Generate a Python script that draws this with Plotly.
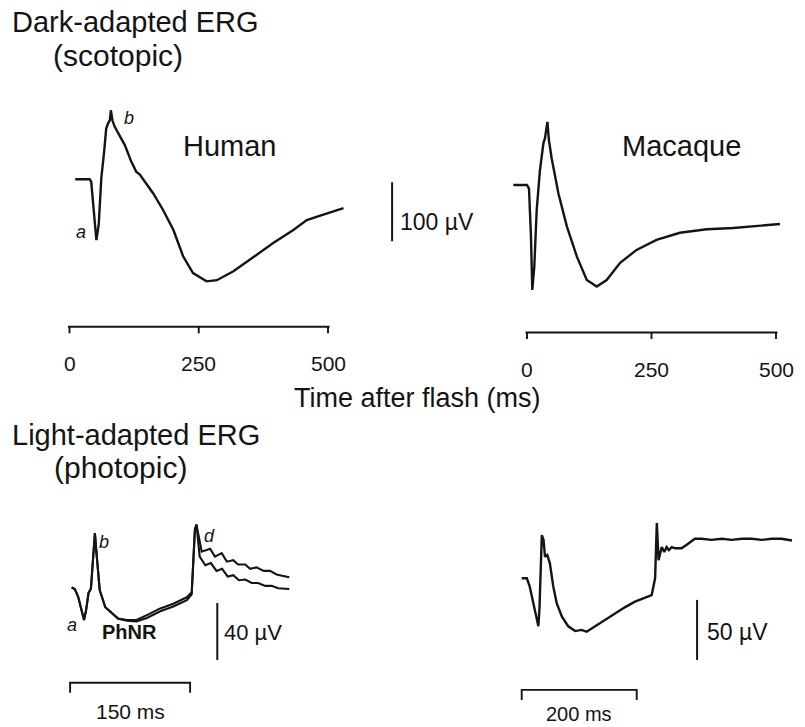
import plotly.graph_objects as go

W, H = 805, 727

# ---- Dark-adapted (scotopic) ERG: time after flash (ms), amplitude (µV) ----
human_scot_t = [11, 39, 42, 49, 52, 56.5, 61.5, 67, 71, 74.5, 78, 80, 83, 87.5, 97, 107,
                119.5, 129, 136, 162, 181, 201, 220, 239, 265, 285, 317, 356, 394, 433,
                459, 491, 530]
human_scot_v = [0, 0, -4, -72, -103, -77, 2, 47, 86, 95, 100, 117, 100, 89, 75, 58,
                30, 13, 8, -24, -52, -86, -131, -159, -173, -171, -156, -131, -108, -86,
                -69, -60, -49]

macaque_scot_t = [-27.5, 0, 4, 8, 10.6, 14.7, 19.5, 26, 33, 36, 41, 44, 49.6, 63, 80,
                  100, 120, 140, 160, 187, 220, 260, 307, 361, 414, 461, 508]
macaque_scot_v = [0, 0, -6, -88, -178, -138, -42, 25, 71, 79, 107, 76, 45, -14, -70,
                  -121, -161, -172, -161, -132, -110, -93, -81, -75, -73, -69, -66]

# ---- Light-adapted (photopic) ERG, human: two superimposed recordings ----
human_phot_t_a = [0, 4, 8, 12.5, 15.4, 18, 21, 24, 27, 29, 31, 35, 42, 48, 58, 69, 81,
                  94, 110, 127, 144, 150, 152, 154, 156, 162.5, 173, 179, 187.5, 194,
                  202, 208, 217, 223, 231, 240, 248, 256, 264.5, 272]
human_phot_v_a = [0, -1.4, -6.5, -16, -23, -16, -4, -1, 24, 38, 24, -2, -14, -17, -22,
                  -23, -23, -19.5, -15, -11.5, -7, -3.5, 19, 41, 44, 25, 27, 21.5, 24, 18,
                  19, 16, 16, 13, 14, 11.5, 11.5, 9, 8, 7]

human_phot_t_b = [0, 4, 8, 12.5, 15.4, 18, 21, 24, 27, 29, 31, 35, 42, 48, 58, 69, 81,
                  94, 110, 127, 144, 150, 152, 154, 156, 160, 167, 174, 181, 188, 195,
                  202, 209, 217, 225, 233, 242, 250, 258, 272]
human_phot_v_b = [0, -1.4, -6.5, -16, -23, -16, -4, -1, 24, 38, 24, -2, -14, -17, -22,
                  -23.5, -24, -21.5, -17, -13.5, -9, -5, 18, 40, 44, 21.5, 15.5, 17, 11.5,
                  13, 7.5, 8.5, 5, 5.5, 3, 3, 1, 1, -0.7, -1.2]

# ---- Light-adapted (photopic) ERG, macaque ----
macaque_phot_t = [0, 9, 14, 20, 26, 29, 31, 32, 35, 38, 40.5, 44.5, 49, 55, 61, 70, 81,
                  93, 104, 113, 127.5, 145, 162, 180, 197, 214, 226, 232, 235, 238, 243.5,
                  248, 252, 256, 261, 267, 278, 287, 301, 313, 330, 348, 365, 383, 400,
                  417, 435, 452, 470]
macaque_phot_v = [0, 0, -7, -21, -32, -40, -24, -6, 36, 32, 18, 19.5, 12.5, -7, -21, -32,
                  -40, -44, -43, -44.5, -40, -35, -29, -24, -19.5, -16, -14, 0, 46, 15, 26,
                  22, 26, 23.5, 26, 25, 25, 28, 33, 33, 32, 33, 32, 33, 33, 32, 33, 33,
                  31.5]

time_ticks = [0, 250, 500]
time_tick_labels = ["0", "250", "500"]

scot_bar_uv = 100
phot_bar_uv_human = 40
phot_bar_uv_macaque = 50
phot_bar_ms_human = 150
phot_bar_ms_macaque = 200

INK = "#141414"
FONT = "Liberation Sans, Arial, sans-serif"


def panel(box, x0_px, sx, y0_px, sy):
    """Axis pair whose data units map to sx / sy pixels, with 0 at (x0_px, y0_px)."""
    left, right, top, bottom = box
    xa = dict(domain=[left / W, right / W],
              range=[(left - x0_px) / sx, (right - x0_px) / sx],
              visible=False, fixedrange=True)
    ya = dict(domain=[1 - bottom / H, 1 - top / H],
              range=[(y0_px - bottom) / sy, (y0_px - top) / sy],
              visible=False, fixedrange=True)
    return xa, ya


def px(x, y):
    return x / W, 1 - y / H


fig = go.Figure()

line_style = dict(color=INK, width=2.4)
fig.add_trace(go.Scatter(x=human_scot_t, y=human_scot_v, mode="lines", line=line_style,
                         xaxis="x", yaxis="y", hoverinfo="skip"))
fig.add_trace(go.Scatter(x=macaque_scot_t, y=macaque_scot_v, mode="lines", line=line_style,
                         xaxis="x2", yaxis="y2", hoverinfo="skip"))
fig.add_trace(go.Scatter(x=human_phot_t_a, y=human_phot_v_a, mode="lines",
                         line=dict(color=INK, width=2.1), xaxis="x3", yaxis="y3",
                         hoverinfo="skip"))
fig.add_trace(go.Scatter(x=human_phot_t_b, y=human_phot_v_b, mode="lines",
                         line=dict(color=INK, width=2.1), xaxis="x3", yaxis="y3",
                         hoverinfo="skip"))
fig.add_trace(go.Scatter(x=macaque_phot_t, y=macaque_phot_v, mode="lines", line=line_style,
                         xaxis="x4", yaxis="y4", hoverinfo="skip"))

x1, y1 = panel((50, 480, 90, 350), 69.5, 0.517, 179.3, 0.59)
x2, y2 = panel((495, 805, 90, 350), 527, 0.498, 185, 0.59)
x3, y3 = panel((55, 300, 505, 727), 71.7, 0.8, 587.3, 1.425)
x4, y4 = panel((505, 805, 505, 727), 521.7, 0.575, 578.3, 1.2)

shapes = []
annotations = []


def text(x, y, s, size, xref="paper", yref="paper", xanchor="center", yanchor="middle",
         xshift=0, yshift=0):
    annotations.append(dict(x=x, y=y, xref=xref, yref=yref, text=s, showarrow=False,
                            xanchor=xanchor, yanchor=yanchor, xshift=xshift, yshift=yshift,
                            font=dict(family=FONT, size=size, color=INK)))


def seg(xref, yref, xa, ya, xb, yb, width=1.9):
    shapes.append(dict(type="line", xref=xref, yref=yref, x0=xa, y0=ya, x1=xb, y1=yb,
                       line=dict(color=INK, width=width)))


# Time axes under the scotopic traces
axis_y = -250
tick_len = 11
for xr, yr in (("x", "y"), ("x2", "y2")):
    seg(xr, yr, -3, axis_y, time_ticks[-1] + 3, axis_y)
    for t, lab in zip(time_ticks, time_tick_labels):
        seg(xr, yr, t, axis_y, t, axis_y - tick_len)
        text(t, axis_y, lab, 21, xref=xr, yref=yr, yshift=-37)

# 100 µV scale bar (scotopic)
seg("x", "y", 624, -5, 624, -5 - scot_bar_uv, width=2)
text(624, -5 - scot_bar_uv / 2, f"{scot_bar_uv} µV", 23, xref="x", yref="y",
     xanchor="left", xshift=6, yshift=-10)

# Photopic amplitude scale bars
seg("x3", "y3", 182, -11, 182, -11 - phot_bar_uv_human, width=2)
text(182, -11 - phot_bar_uv_human / 2, f"{phot_bar_uv_human} µV", 22, xref="x3", yref="y3",
     xanchor="left", xshift=5, yshift=-1)
seg("x4", "y4", 305, -18, 305, -18 - phot_bar_uv_macaque, width=2)
text(305, -18 - phot_bar_uv_macaque / 2, f"{phot_bar_uv_macaque} µV", 23, xref="x4",
     yref="y4", xanchor="left", xshift=8, yshift=-2)


# Photopic time scale brackets
def bracket(xref, yref, xa, length, yb, drop):
    shapes.append(dict(type="path", xref=xref, yref=yref,
                       path=f"M {xa},{yb - drop} L {xa},{yb} L {xa + length},{yb} "
                            f"L {xa + length},{yb - drop}",
                       line=dict(color=INK, width=1.9)))


bracket("x3", "y3", -2, phot_bar_ms_human, -67, 7)
text(-2 + phot_bar_ms_human / 2, -67, f"{phot_bar_ms_human} ms", 21, xref="x3", yref="y3",
     yshift=-29)
bracket("x4", "y4", 0, phot_bar_ms_macaque, -93, 8.5)
text(phot_bar_ms_macaque / 2, -93, f"{phot_bar_ms_macaque} ms", 20, xref="x4", yref="y4",
     yshift=-24)

# Headings and labels
text(*px(10, 22), "Dark-adapted ERG", 29, xanchor="left")
text(*px(118, 56), "(scotopic)", 30)
text(*px(230, 146), "Human", 29)
text(*px(681, 146), "Macaque", 29)
text(*px(417, 398), "Time after flash (ms)", 27)
text(*px(10, 435), "Light-adapted ERG", 29, xanchor="left")
text(*px(120, 467), "(photopic)", 30)

# Wave labels
text(*px(129, 118), "<i>b</i>", 18)
text(*px(81, 232), "<i>a</i>", 18)
text(*px(72, 625), "<i>a</i>", 18)
text(*px(104, 542), "<i>b</i>", 18)
text(*px(209, 536), "<i>d</i>", 18)
text(*px(129, 632), "<b>PhNR</b>", 20)

fig.update_layout(
    width=W, height=H,
    margin=dict(l=0, r=0, t=0, b=0),
    paper_bgcolor="white", plot_bgcolor="rgba(0,0,0,0)",
    showlegend=False,
    xaxis=x1, yaxis=y1, xaxis2=x2, yaxis2=y2,
    xaxis3=x3, yaxis3=y3, xaxis4=x4, yaxis4=y4,
    shapes=shapes, annotations=annotations,
)

fig.write_html("out.html")
